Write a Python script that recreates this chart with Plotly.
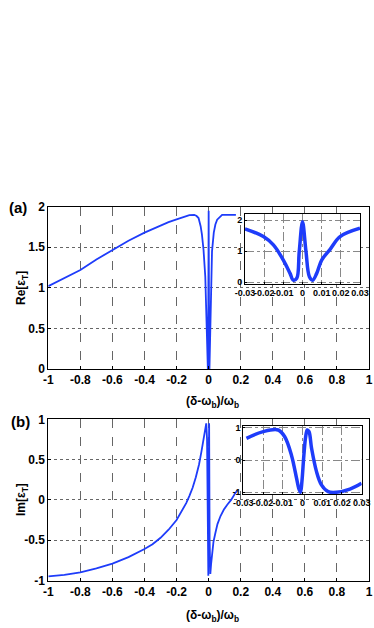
import plotly.graph_objects as go

# ---- data ----
# panel (a): Re[eps_T], full range
re_x = [-1, -0.9, -0.8, -0.7, -0.6, -0.5, -0.4, -0.3, -0.25, -0.2, -0.15, -0.12, -0.09,
        -0.075, -0.063, -0.05, -0.042, -0.032, -0.021, -0.015, -0.01, -0.005, -0.002, 0,
        0.002, 0.005, 0.0105, 0.015, 0.021, 0.032, 0.042, 0.053, 0.07, 0.084, 0.12, 0.17]
re_y = [1.02, 1.12, 1.22, 1.35, 1.47, 1.58, 1.68, 1.77, 1.81, 1.845, 1.88, 1.895, 1.9,
        1.885, 1.86, 1.76, 1.66, 1.47, 1.14, 0.73, 0.3, 0.0, 0.8, 1.95,
        0.8, 0.0, 0.6, 1.05, 1.45, 1.68, 1.78, 1.84, 1.88, 1.9, 1.9, 1.9]

# panel (a) inset, zoom around 0
re_in_x = [-0.03, -0.0204, -0.0152, -0.01, -0.0065, -0.0048, -0.003, -0.0017, 0,
           0.0018, 0.0036, 0.0053, 0.0074, 0.01, 0.0143, 0.0196, 0.03]
re_in_y = [1.72, 1.47, 1.2, 0.71, 0.28, 0.06, 0.12, 0.98, 1.95,
           1.0, 0.17, 0.06, 0.28, 0.71, 1.05, 1.47, 1.74]

# panel (b): Im[eps_T], full range
im_x = [-1, -0.9, -0.8, -0.7, -0.6, -0.5, -0.4, -0.35, -0.3, -0.25, -0.2, -0.17, -0.14,
        -0.12, -0.1, -0.08, -0.06, -0.045, -0.032, -0.021, -0.015, -0.01, -0.005, -0.002,
        0, 0.003, 0.006, 0.0105, 0.015, 0.021, 0.03, 0.042, 0.055, 0.074, 0.095, 0.116,
        0.14, 0.168, 0.18]
im_y = [-0.95, -0.93, -0.9, -0.85, -0.79, -0.71, -0.61, -0.55, -0.47, -0.37, -0.25, -0.15, -0.04,
        0.05, 0.15, 0.28, 0.44, 0.6, 0.74, 0.88, 0.95, 0.75, -0.2, -0.94,
        0.1, 0.95, -0.5, -0.92, -0.8, -0.66, -0.52, -0.41, -0.3, -0.2, -0.12, -0.06,
        0.0, 0.09, 0.12]

# panel (b) inset
im_in_x = [-0.0284, -0.0199, -0.0123, -0.009, -0.0056, -0.003, -0.0019, -0.001, -0.0003,
           0.0007, 0.0016, 0.0024, 0.0033, 0.0046, 0.0071, 0.0096, 0.013, 0.0172, 0.024, 0.0299]
im_in_y = [0.67, 0.88, 0.93, 0.72, 0.15, -0.57, -0.88, -1.0, -0.67,
           0.15, 0.72, 0.93, 0.88, 0.36, -0.36, -0.77, -0.98, -1.0, -0.9, -0.72]

main_xticks = [-1, -0.8, -0.6, -0.4, -0.2, 0, 0.2, 0.4, 0.6, 0.8, 1]
main_xlabels = ['-1', '-0.8', '-0.6', '-0.4', '-0.2', '0', '0.2', '0.4', '0.6', '0.8', '1']
re_yticks = [0, 0.5, 1, 1.5, 2]
re_ylabels = ['0', '0.5', '1', '1.5', '2']
im_yticks = [-1, -0.5, 0, 0.5, 1]
im_ylabels = ['-1', '-0.5', '0', '0.5', '1']
in_xticks = [-0.03, -0.02, -0.01, 0, 0.01, 0.02, 0.03]
in_xlabels = ['-0.03', '-0.02', '-0.01', '0', '0.01', '0.02', '0.03']
re_in_yticks = [0, 1, 2]
im_in_yticks = [-1, 0, 1]
im_in_ylabels = ['-1', '0', '1']

W, H = 374, 628
BLUE = 'rgb(30,60,250)'
FONT = 'Liberation Sans, Arial, sans-serif'


def px_x(a, b):
    return [a / W, b / W]


def px_y(top, bottom):
    return [1 - bottom / H, 1 - top / H]


fig = go.Figure()
fig.add_trace(go.Scatter(x=re_x, y=re_y, mode='lines', line=dict(color=BLUE, width=1.8),
                         xaxis='x', yaxis='y'))
fig.add_trace(go.Scatter(x=re_in_x, y=re_in_y, mode='lines', line=dict(color=BLUE, width=3.5, shape='spline'),
                         xaxis='x2', yaxis='y2'))
fig.add_trace(go.Scatter(x=im_x, y=im_y, mode='lines', line=dict(color=BLUE, width=1.8),
                         xaxis='x3', yaxis='y3'))
fig.add_trace(go.Scatter(x=im_in_x, y=im_in_y, mode='lines', line=dict(color=BLUE, width=3.5, shape='spline'),
                         xaxis='x4', yaxis='y4'))

tickfont = dict(family=FONT, size=12, color='black', weight='bold')
in_tickfont = dict(family=FONT, size=9, color='black', weight='bold')

main_ax = dict(showline=True, linecolor='black', linewidth=1, mirror=True, automargin=False,
               ticks='inside', ticklen=3, tickcolor='black', showgrid=True,
               gridcolor='#666', gridwidth=1, zeroline=False, tickfont=tickfont, tickangle=0)
in_ax = dict(showline=True, linecolor='black', linewidth=1, mirror=True, automargin=False,
             ticks='inside', ticklen=2, tickcolor='black', showgrid=True,
             gridcolor='#888', gridwidth=1, griddash='dashdot', zeroline=False,
             tickfont=in_tickfont, tickangle=0)

fig.update_layout(
    template='none',
    width=W, height=H, autosize=False,
    margin=dict(l=0, r=0, t=0, b=0, pad=0),
    paper_bgcolor='white', plot_bgcolor='white',
    showlegend=False,
    xaxis=dict(main_ax, domain=px_x(48.3, 369), range=[-1, 1], tickvals=main_xticks,
               ticktext=main_xlabels, griddash='dash', anchor='y'),
    yaxis=dict(main_ax, domain=px_y(206.7, 369), range=[0, 2], tickvals=re_yticks,
               ticktext=re_ylabels, griddash='dot', anchor='x'),
    xaxis2=dict(in_ax, domain=px_x(245, 360), range=[-0.03, 0.03], tickvals=in_xticks,
                ticktext=in_xlabels, anchor='y2'),
    yaxis2=dict(in_ax, domain=px_y(214, 283.9), range=[-0.06, 2.2], tickvals=re_in_yticks,
                anchor='x2'),
    xaxis3=dict(main_ax, domain=px_x(48.3, 369), range=[-1, 1], tickvals=main_xticks,
                ticktext=main_xlabels, griddash='dash', anchor='y3'),
    yaxis3=dict(main_ax, domain=px_y(419.3, 580.5), range=[-1, 1], tickvals=im_yticks,
                ticktext=im_ylabels, griddash='dot', anchor='x3'),
    xaxis4=dict(in_ax, domain=px_x(243.3, 361.7), range=[-0.03, 0.03], tickvals=in_xticks,
                ticktext=in_xlabels, anchor='y4'),
    yaxis4=dict(in_ax, domain=px_y(425.8, 494.2), range=[-1.06, 1.06], tickvals=im_in_yticks,
                ticktext=im_in_ylabels, anchor='x4'),
)

lab = dict(family=FONT, size=12, color='black', weight='bold')
ann = [
    dict(text='(a)', x=18 / W, y=1 - 207 / H, font=dict(lab, size=15)),
    dict(text='(b)', x=20 / W, y=1 - 421 / H, font=dict(lab, size=15)),
    dict(text='Re[ε<sub>T</sub>]', x=22 / W, y=1 - 288 / H, textangle=-90, font=lab),
    dict(text='Im[ε<sub>T</sub>]', x=22 / W, y=1 - 500 / H, textangle=-90, font=lab),
    dict(text='(δ-ω<sub>b</sub>)/ω<sub>b</sub>', x=213 / W, y=1 - 402 / H, font=lab),
    dict(text='(δ-ω<sub>b</sub>)/ω<sub>b</sub>', x=213 / W, y=1 - 616 / H, font=lab),
]
for a in ann:
    a.update(xref='paper', yref='paper', showarrow=False, xanchor='center', yanchor='middle')
    fig.add_annotation(**a)

# page body has an 8px default margin; drop it so the figure sits at the window origin
fig.write_html("out.html", config={'displayModeBar': False},
               post_script="document.body.style.margin='0';")
